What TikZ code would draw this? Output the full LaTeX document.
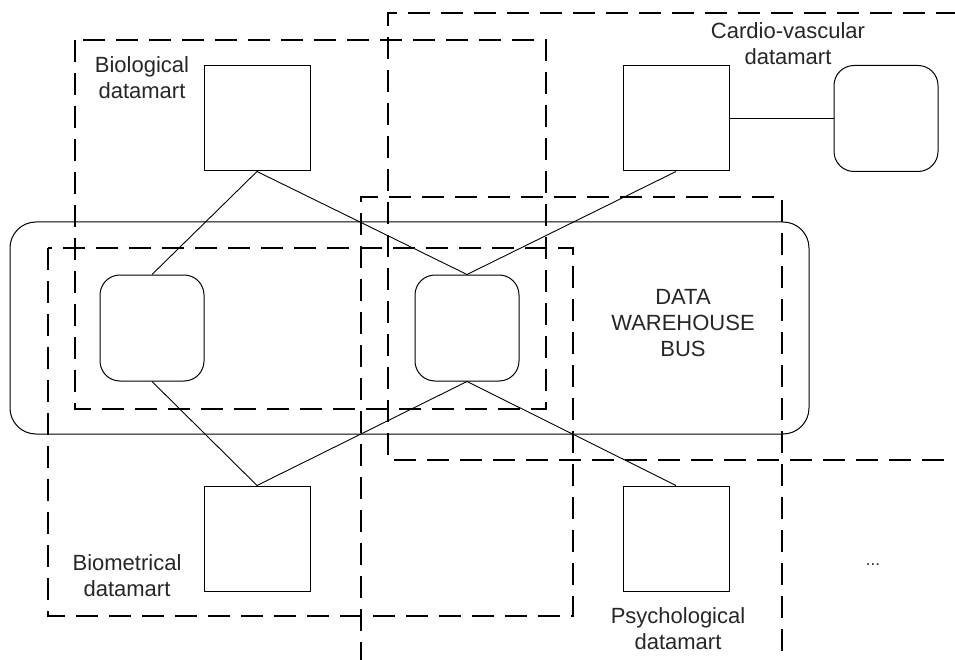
\documentclass[tikz,border=0pt]{standalone}
\usepackage{fontspec}
\setmainfont{Liberation Sans}
\begin{document}
\begin{tikzpicture}[x=1pt,y=-1pt,
  sq/.style={draw=black,line width=1pt,rectangle,inner sep=0pt,minimum width=106pt,minimum height=105pt},
  rbox/.style={draw=black,line width=1pt,rectangle,rounded corners=20pt,inner sep=0pt,minimum width=104pt,minimum height=106pt},
  bus/.style={draw=black,line width=1pt,rectangle,rounded corners=26pt,inner sep=0pt,minimum width=799pt,minimum height=212pt},
  area/.style={draw=black,line width=1.2pt,dash pattern=on 22pt off 11pt},
  lbl/.style={align=center,inner sep=0pt,anchor=north,text=black!85,font=\fontsize{22}{26}\selectfont},
  link/.style={draw=black,line width=0.9pt}]
\useasboundingbox (0,0) rectangle (955,660);
% dashed datamart areas
\draw[area] (75,40) rectangle (546,409);
\draw[area] (48,248) rectangle (573,616);
\draw[area] (958,13) -- (388,13) -- (388,460) -- (958,460);
\draw[area] (361,664) -- (361,197) -- (782,197) -- (782,664);
% bus
\node[bus] (bus) at (409.5,328) {};
% nodes
\node[sq] (bio) at (257,118.5) {};
\node[sq] (cv) at (676,118.5) {};
\node[sq] (bm) at (257,538.5) {};
\node[sq] (ps) at (676,538.5) {};
\node[rbox] (lft) at (152,328) {};
\node[rbox] (mid) at (467,328) {};
\node[rbox] (cvr) at (886,118.5) {};
% labels
\node[lbl] (tbio) at (142,56) {Biological\\datamart};
\node[lbl] (tcv) at (788,22) {Cardio-vascular\\datamart};
\node[lbl] (tbus) at (683,289) {DATA\\WAREHOUSE\\BUS};
\node[lbl] (tbm) at (127,554) {Biometrical\\datamart};
\node[lbl] (tps) at (678,607) {Psychological\\datamart};
\node[anchor=base,inner sep=0pt,text=black!85,font=\fontsize{17}{18}\selectfont] (dots) at (873,565) {...};
% connectors
\draw[link] (bio.south) -- (lft.north);
\draw[link] (bio.south) -- (mid.north);
\draw[link] (cv.south) -- (mid.north);
\draw[link] (cv.east) -- (cvr.west);
\draw[link] (lft.south) -- (bm.north);
\draw[link] (mid.south) -- (bm.north);
\draw[link] (mid.south) -- (ps.north);
\end{tikzpicture}
\end{document}
